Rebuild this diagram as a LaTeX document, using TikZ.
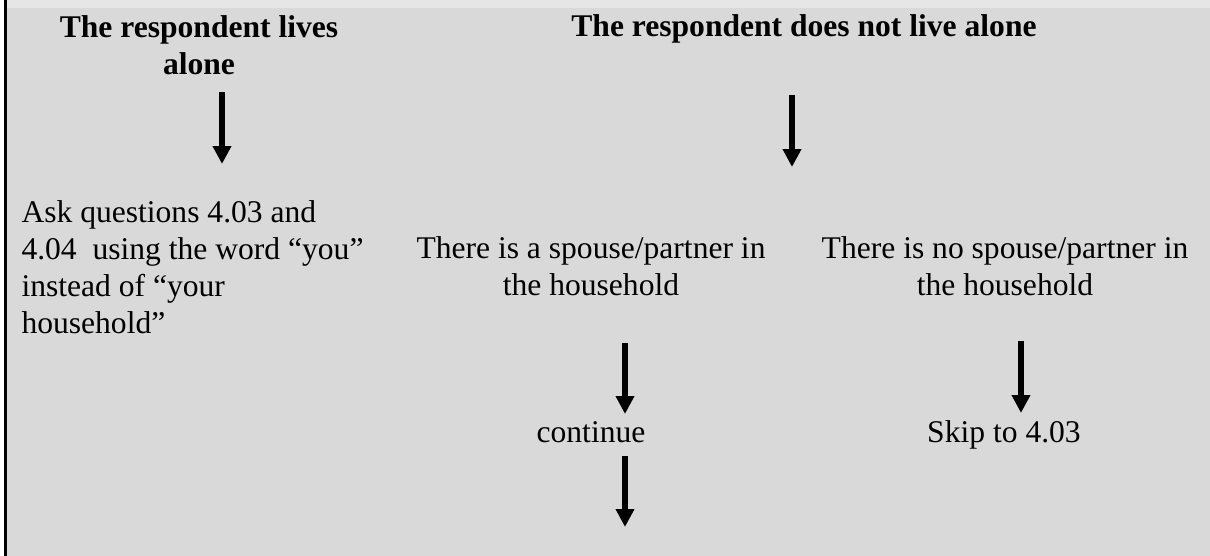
\documentclass[tikz,border=0pt]{standalone}
\usepackage{fontspec}
\setmainfont{Liberation Serif}
\usepackage{xcolor}
\usetikzlibrary{arrows.meta, positioning}

\definecolor{panelgray}{HTML}{D9D9D9}
\definecolor{stripgray}{HTML}{E6E6E6}

\begin{document}
\begin{tikzpicture}[
    x=0.38pt, y=-0.38pt,
    base/.style={inner sep=0pt, outer sep=0pt, font=\fontsize{12}{14.1}\selectfont},
    heading/.style={base, align=center, font=\fontsize{12}{14.1}\selectfont\bfseries},
    label/.style={base, align=center},
    note/.style={base, align=left},
    arrow/.style={-{Triangle[width=6.7pt, length=6.8pt]}, line width=2.25pt}
]
    \useasboundingbox (0,0) rectangle (1210,556);

    % Background panel
    \fill [panelgray] (0,0) rectangle (1210,556);
    \fill [white] (0,0) rectangle (4,556);
    \fill [stripgray] (4,0) rectangle (1210,8.5);
    \fill [black] (4,0) rectangle (6.5,556);

    % Headings
    \node [heading, anchor=north] (alone) at (199,15.5) {The respondent lives\\alone};
    \node [heading, anchor=base] (notalone) at (804,37) {The respondent does not live alone};

    % Second row
    \node [note, anchor=north west] (ask) at (21.5,200.5)
        {Ask questions 4.03 and\\4.04\ \ using the word “you”\\instead of “your\\household”};
    \node [label, anchor=north] (partner) at (591,236.5) {There is a spouse/partner in\\the household};
    \node [label, anchor=north] (nopartner) at (1005,236.5) {There is no spouse/partner in\\the household};

    % Third row
    \node [label, anchor=base] (cont) at (591,443) {continue};
    \node [label, anchor=base] (skip) at (1004,443) {Skip to 4.03};

    % Arrow ends
    \coordinate (alone-out) at (222,92);
    \coordinate (ask-in) at (222,164);
    \coordinate (notalone-out) at (792,95);
    \coordinate (split-in) at (792,167);
    \coordinate (partner-out) at (625,343);
    \coordinate (cont-in) at (625,414);
    \coordinate (nopartner-out) at (1021,341);
    \coordinate (skip-in) at (1021,413);
    \coordinate (cont-out) at (625,456);
    \coordinate (next-in) at (625,527);

    % Connections
    \draw [arrow] (alone-out) -- (ask-in);
    \draw [arrow] (notalone-out) -- (split-in);
    \draw [arrow] (partner-out) -- (cont-in);
    \draw [arrow] (nopartner-out) -- (skip-in);
    \draw [arrow] (cont-out) -- (next-in);

\end{tikzpicture}
\end{document}
